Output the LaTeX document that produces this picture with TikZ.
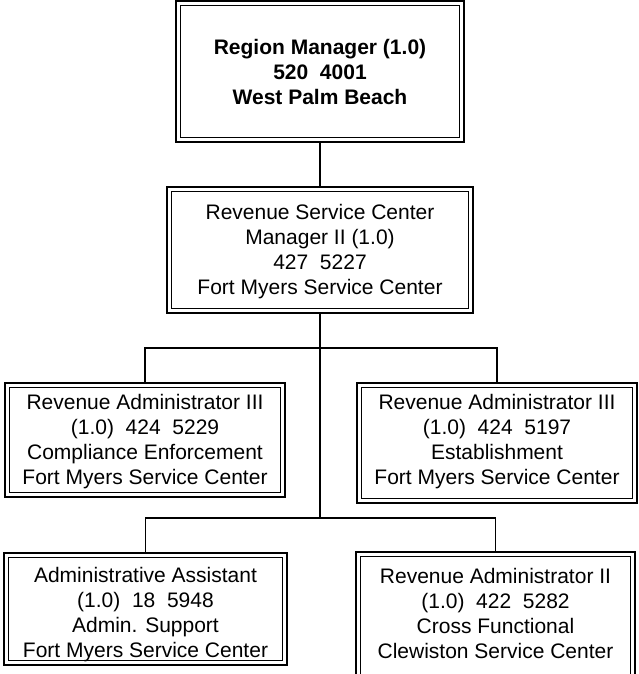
\documentclass[tikz,border=0pt]{standalone}
\usepackage{fontspec}
\setmainfont{Liberation Sans}
\begin{document}
\begin{tikzpicture}[x=1pt,y=-1pt,
  % double-ruled box: heavy outer frame, lighter inner frame
  orgbox/.style={draw, line width=2pt, fill=white, inner sep=0pt,
    align=center, font=\fontsize{21}{25}\selectfont,
    path picture={\draw[line width=1.1pt]
      ([shift={(4.5pt,-4.5pt)}]path picture bounding box.north west) rectangle
      ([shift={(-4.5pt,4.5pt)}]path picture bounding box.south east);}},
  link/.style={draw, line width=1.3pt},
  trunk/.style={draw, line width=2pt}]
\useasboundingbox (0,0) rectangle (638,674);

% boxes
\node[orgbox, minimum width=288pt, minimum height=141pt, font=\fontsize{21}{25}\selectfont\bfseries]
  (region) at (320,71.5) {Region Manager (1.0)\\520\ \ 4001\\West Palm Beach};
\node[orgbox, minimum width=306pt, minimum height=126pt, text depth=1pt]
  (center) at (320,250) {Revenue Service Center\\Manager II (1.0)\\427\ \ 5227\\Fort Myers Service Center};
\node[orgbox, minimum width=280pt, minimum height=114pt, text depth=2pt]
  (compl) at (145,440) {Revenue Administrator III\\(1.0)\ \ 424\ \ 5229\\Compliance Enforcement\\Fort Myers Service Center};
\node[orgbox, minimum width=280pt, minimum height=120pt, text depth=8pt]
  (estab) at (497,443) {Revenue Administrator III\\(1.0)\ \ 424\ \ 5197\\Establishment\\Fort Myers Service Center};
\node[orgbox, minimum width=283pt, minimum height=112pt, text depth=0pt, text height=97pt]
  (admin) at (145.5,609) {Administrative Assistant\\(1.0)\ \ 18\ \ 5948\\Admin. Support\\Fort Myers Service Center};
\node[orgbox, minimum width=279pt, minimum height=128pt, text depth=6pt]
  (cross) at (495.5,616) {Revenue Administrator II\\(1.0)\ \ 422\ \ 5282\\Cross Functional\\Clewiston Service Center};

% junction points of the two horizontal buses
\coordinate (busA) at (320,348);
\coordinate (busB) at (320,518);

% connectors
\path[link] (region.south) -- (center.north);
\path[trunk] (center.south) -- (busB);
\path[link] (compl.north) -- (compl.north |- busA) -- (estab.north |- busA) -- (estab.north);
\path[link] (admin.north) -- (admin.north |- busB) -- (cross.north |- busB) -- (cross.north);
\end{tikzpicture}
\end{document}
